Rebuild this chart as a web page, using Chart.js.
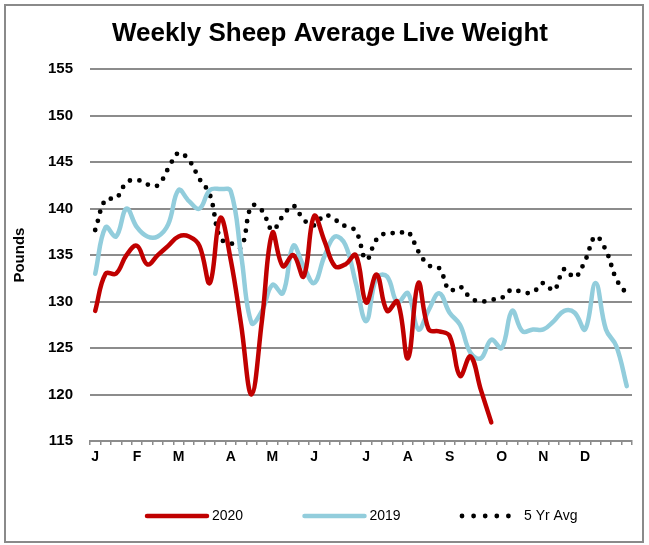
<!DOCTYPE html>
<html>
<head>
<meta charset="utf-8">
<script src="https://cdn.jsdelivr.net/npm/chart.js@4.4.1/dist/chart.umd.min.js"></script>
<style>
  html, body { margin: 0; padding: 0; background: #fff; }
  #chart_area { display: block; }
</style>
</head>
<body>
<canvas id="chart_area" width="649" height="545"></canvas>
<script>
// week numbers 1..52
const weeks = [1, 2, 3, 4, 5, 6, 7, 8, 9, 10, 11, 12, 13, 14, 15, 16, 17, 18, 19, 20,
  21, 22, 23, 24, 25, 26, 27, 28, 29, 30, 31, 32, 33, 34, 35, 36, 37, 38, 39, 40,
  41, 42, 43, 44, 45, 46, 47, 48, 49, 50, 51, 52];
// month letters and the week index where each one is printed
const monthLabels = ["J", "F", "M", "A", "M", "J", "J", "A", "S", "O", "N", "D"];
const monthStartWeek = [0, 4, 8, 13, 17, 21, 26, 30, 34, 39, 43, 47];

const sheep2020 = [129, 133, 133, 135, 136, 134, 135, 136, 137, 137, 136, 132, 139, 134.5, 127.5,
  120, 128, 137.4, 133.8, 135, 132.7, 139.2, 136.5, 133.8, 134, 135, 129.9, 132.9, 129, 130,
  123.9, 132, 127, 126.8, 126.3, 122, 124.1, 120.5, 117];
const sheep2019 = [133, 138, 137, 140, 138, 137, 137, 138.3, 142, 140.8, 140, 142, 142.1, 141.9,
  135, 127.7, 129, 131.8, 130.9, 136, 133.8, 132, 134.9, 137, 136.1, 132, 127.9, 132.6, 132.7,
  129.9, 130.9, 127, 129.1, 130.9, 128.8, 127.5, 124.5, 123.9, 125.9, 125, 129, 126.8, 127, 127,
  127.9, 129, 128.8, 127, 132, 127, 125.2, 120.9];
const fiveYrAvg = [137.7, 141, 141.1, 142.8, 143.1, 142.6, 142.5, 144.3, 146, 145.2, 143.2, 141.5,
  136.8, 136.3, 135.8, 140.3, 139.8, 137.7, 139.2, 140.3, 138.8, 138.2, 139.3, 138.8, 138.1,
  137.6, 134.5, 136.7, 137.4, 137.3, 137.5, 135.4, 133.9, 133.6, 131.2, 131.6, 130.4, 130, 130.2,
  130.4, 131.3, 131, 131, 132, 131.2, 133.5, 132.6, 134.4, 137, 135.5, 132.4, 130.8];

const yTicks = [115, 120, 125, 130, 135, 140, 145, 150, 155];

const fontFam = "'Liberation Sans', Arial, Helvetica, sans-serif";
const gridGrey = "#8c8c8c";

// white page + grey frame round the whole chart
const frame = {
  id: 'frame',
  beforeDraw(chart) {
    const ctx = chart.ctx;
    ctx.save();
    ctx.fillStyle = "#fff";
    ctx.fillRect(0, 0, chart.width, chart.height);
    ctx.strokeStyle = "#8a8a8a";
    ctx.lineWidth = 2;
    ctx.strokeRect(5, 5, chart.width - 11, chart.height - 8);
    ctx.restore();
  }
};

// excel style legend, fixed width slots under the plot
const sheepLegend = {
  id: 'sheepLegend',
  afterDraw(chart) {
    const ctx = chart.ctx;
    const area = chart.chartArea;
    const y = area.bottom + 75;
    chart.data.datasets.forEach(function (ds, i) {
      const x = area.left + 57 + i * 157.5;
      const dotted = ds.borderDash && ds.borderDash.length > 0;
      ctx.save();
      ctx.strokeStyle = ds.borderColor;
      ctx.lineWidth = ds.borderWidth;
      ctx.lineCap = "round";
      ctx.setLineDash(dotted ? [0, 11.6] : []);
      ctx.beginPath();
      ctx.moveTo(x, y);
      ctx.lineTo(x + (dotted ? 47 : 60), y);
      ctx.stroke();
      ctx.setLineDash([]);
      ctx.fillStyle = "#000";
      ctx.font = "14px " + fontFam;
      ctx.textBaseline = "middle";
      ctx.textAlign = "left";
      ctx.fillText(ds.label, x + (dotted ? 62 : 65), y);
      ctx.restore();
    });
  }
};

const ctx = document.getElementById('chart_area').getContext('2d');
const chart = new Chart(ctx, {
  type: 'line',
  data: {
    labels: weeks,
    datasets: [{
      label: "2020",
      data: sheep2020,
      borderColor: "#c00000",
      borderWidth: 4.5,
      pointRadius: 0,
      tension: 0.4,
      borderCapStyle: 'round',
      borderJoinStyle: 'round'
    }, {
      label: "2019",
      data: sheep2019,
      borderColor: "#92cddc",
      borderWidth: 4.5,
      pointRadius: 0,
      tension: 0.4,
      borderCapStyle: 'round',
      borderJoinStyle: 'round'
    }, {
      label: "5 Yr Avg",
      data: fiveYrAvg,
      borderColor: "#000",
      borderWidth: 4.8,
      borderDash: [0, 9.5],
      borderCapStyle: 'round',
      pointRadius: 0,
      tension: 0.4
    }]
  },
  options: {
    responsive: false,
    animation: false,
    devicePixelRatio: 1,
    layout: { padding: { left: 14, right: 3, top: 0, bottom: 0 } },
    plugins: {
      legend: { display: false },
      tooltip: { enabled: false },
      title: {
        display: true,
        text: "Weekly Sheep Average Live Weight",
        color: "#000",
        font: { family: fontFam, size: 26, weight: 'bold' },
        padding: { top: 18, bottom: 20 }
      }
    },
    scales: {
      x: {
        type: 'category',
        offset: true,
        afterFit: function (scale) { scale.height = 104; },
        grid: {
          offset: true,
          drawOnChartArea: false,
          drawTicks: true,
          tickLength: 4,
          color: gridGrey,
          lineWidth: 1.5
        },
        border: { display: true, color: gridGrey, width: 2 },
        ticks: {
          autoSkip: false,
          maxRotation: 0,
          padding: 4,
          color: "#000",
          font: { family: fontFam, size: 14, weight: 'bold' },
          callback: function (value, index) {
            const m = monthStartWeek.indexOf(index);
            return m >= 0 ? monthLabels[m] : '';
          }
        }
      },
      y: {
        min: 115,
        max: 155,
        afterFit: function (scale) { scale.width = 76; },
        afterBuildTicks: function (scale) {
          scale.ticks = yTicks.map(function (v) { return { value: v }; });
        },
        grid: { color: gridGrey, lineWidth: 2, drawTicks: false },
        border: { display: false },
        ticks: {
          padding: 17,
          color: "#000",
          font: { family: fontFam, size: 15, weight: 'bold' }
        },
        title: {
          display: true,
          text: "Pounds",
          color: "#000",
          font: { family: fontFam, size: 15, weight: 'bold' },
          padding: { top: -3, bottom: 0 }
        }
      },
      // empty strip on the right so the title centres like the original
      yRight: {
        position: 'right',
        display: true,
        afterFit: function (scale) { scale.width = 14; },
        grid: { display: false },
        border: { display: false },
        ticks: { display: false }
      }
    }
  },
  plugins: [frame, sheepLegend]
});
</script>
</body>
</html>
